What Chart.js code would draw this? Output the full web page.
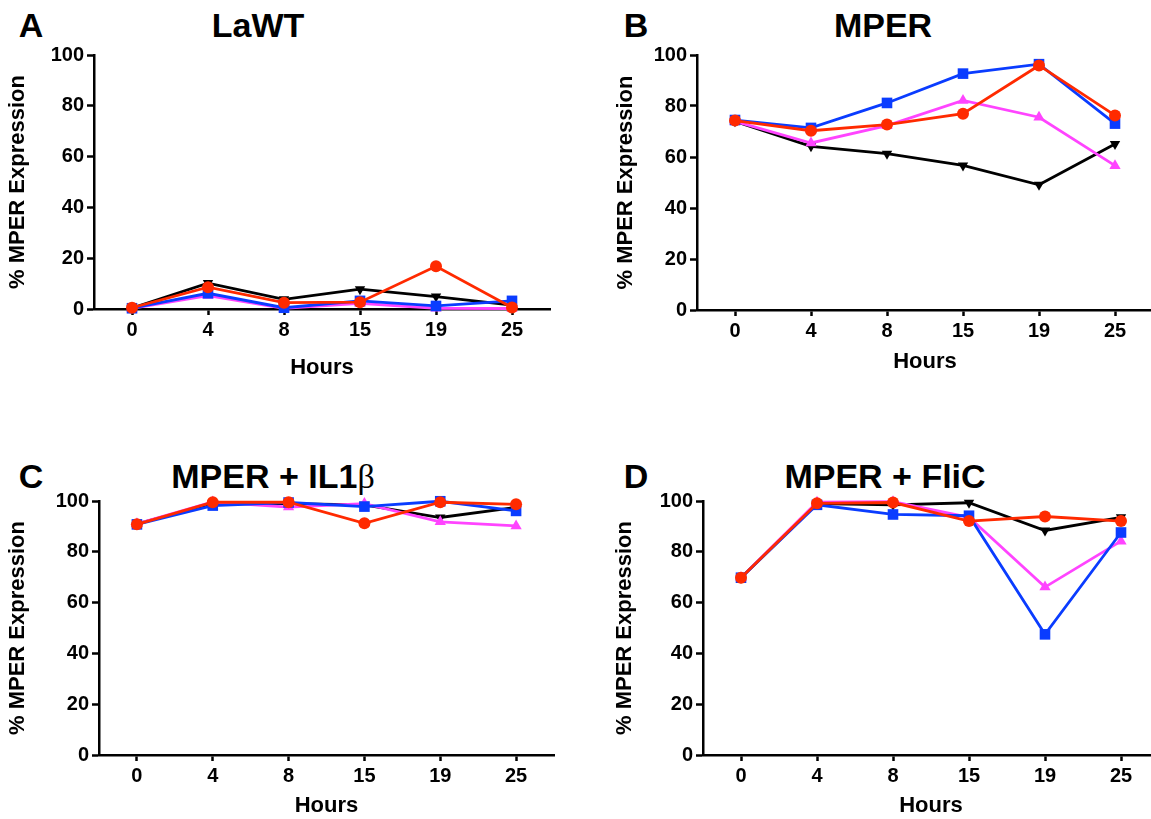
<!DOCTYPE html>
<html>
<head>
<meta charset="utf-8">
<script src="https://cdn.jsdelivr.net/npm/chart.js@4.4.1/dist/chart.umd.min.js"></script>
<style>
  html, body { margin: 0; padding: 0; width: 1151px; height: 819px; overflow: hidden; background: #fff; }
  canvas, .lbl { position: absolute; }
  .lbl {
    font-family: "Liberation Sans", Arial, sans-serif; font-weight: bold; color: #000;
    white-space: nowrap; line-height: 1; transform: translate(-50%, -50%);
  }
  .greek { font-family: "Liberation Serif", serif; font-weight: normal; }
</style>
</head>
<body>
<div class="lbl" style="left:31px;top:25px;font-size:34px">A</div>
<div class="lbl" style="left:258px;top:25px;font-size:34px">LaWT</div>
<div class="lbl" style="left:636px;top:25px;font-size:34px">B</div>
<div class="lbl" style="left:883px;top:25px;font-size:34px">MPER</div>
<div class="lbl" style="left:31px;top:476px;font-size:34px">C</div>
<div class="lbl" style="left:273px;top:476px;font-size:34px">MPER + IL1<span class="greek">β</span></div>
<div class="lbl" style="left:636px;top:476px;font-size:34px">D</div>
<div class="lbl" style="left:885px;top:476px;font-size:34px">MPER + FliC</div>

<canvas id="pA"></canvas>
<canvas id="pB"></canvas>
<canvas id="pC"></canvas>
<canvas id="pD"></canvas>

<script>
const hours = ['0', '4', '8', '15', '19', '25'];

// panel A - LaWT
const lawtRed   = [0.5, 8.6, 2.5, 2.7, 16.8, 0.6];
const lawtBlue  = [0.3, 6.2, 0.5, 3.2, 1.2, 3.2];
const lawtPink  = [0.2, 5.3, 0.3, 2.2, 0.3, 0.2];
const lawtBlack = [0.4, 10.2, 3.8, 7.8, 4.9, 1.5];

// panel B - MPER
const mperRed   = [74.3, 70.3, 72.7, 77.0, 95.9, 76.3];
const mperBlue  = [74.5, 71.4, 81.2, 92.7, 96.4, 73.1];
const mperPink  = [74.0, 65.5, 72.3, 82.2, 75.6, 56.6];
const mperBlack = [74.0, 64.2, 61.3, 56.7, 49.1, 65.1];

// panel C - MPER + IL1b
const il1bRed   = [90.8, 99.5, 99.5, 91.2, 99.5, 98.7];
const il1bBlue  = [90.8, 98.2, 99.4, 97.8, 99.9, 96.1];
const il1bPink  = [91.0, 99.6, 97.6, 99.0, 91.8, 90.2];
const il1bBlack = [91.0, 99.0, 99.0, 98.5, 93.5, 97.5];

// panel D - MPER + FliC
const flicRed   = [69.8, 99.1, 99.4, 92.1, 93.9, 92.1];
const flicBlue  = [69.8, 98.5, 94.7, 94.2, 47.5, 87.6];
const flicPink  = [69.8, 99.5, 99.7, 93.6, 66.1, 84.2];
const flicBlack = [69.8, 99.0, 98.5, 99.3, 88.4, 93.6];

const FONT = '"Liberation Sans", Arial, sans-serif';

function series(red, blue, pink, black) {
  // first dataset is drawn on top
  return [
    { data: red, borderColor: '#ff2a00', backgroundColor: '#ff2a00', pointStyle: 'circle', pointRadius: 6 },
    { data: blue, borderColor: '#0a3cff', backgroundColor: '#0a3cff', pointStyle: 'rect', pointRadius: 7.5 },
    { data: pink, borderColor: '#ff44ff', backgroundColor: '#ff44ff', pointStyle: 'triangle', pointRadius: 6.5 },
    { data: black, borderColor: '#000', backgroundColor: '#000', pointStyle: 'triangle', pointRotation: 180, pointRadius: 6 }
  ].map(d => Object.assign(d, { borderWidth: 2.8, pointBorderWidth: 0, clip: false, tension: 0 }));
}

function makePanel(id, g, datasets) {
  const cv = document.getElementById(id);
  cv.width = g.w; cv.height = g.h;
  cv.style.left = g.x + 'px'; cv.style.top = g.y + 'px';
  cv.style.width = g.w + 'px'; cv.style.height = g.h + 'px';
  new Chart(cv.getContext('2d'), {
    type: 'line',
    data: { labels: hours, datasets: datasets },
    options: {
      responsive: false,
      animation: false,
      layout: { padding: { left: g.padLeft, top: g.padTop, right: g.padRight, bottom: 0 } },
      plugins: { legend: { display: false }, tooltip: { enabled: false } },
      scales: {
        x: {
          type: 'category',
          offset: true,
          afterFit: s => { s.height = g.xHeight; },
          grid: { offset: false, drawOnChartArea: false, drawTicks: true, tickLength: 6, tickWidth: 2.5, tickColor: '#000' },
          border: { display: true, color: '#000', width: 2.5 },
          ticks: { color: '#000', padding: 3, maxRotation: 0, font: { family: FONT, size: 20, weight: 'bold' } },
          title: { display: true, text: 'Hours', color: '#000', padding: 0, font: { family: FONT, size: 22, weight: 'bold' } }
        },
        y: {
          min: 0, max: 100,
          afterFit: s => { s.width = g.yWidth; },
          grid: { drawOnChartArea: false, drawTicks: true, tickLength: 7, tickWidth: 2.5, tickColor: '#000' },
          border: { display: true, color: '#000', width: 2.5 },
          ticks: { stepSize: 20, color: '#000', padding: 3, font: { family: FONT, size: 20, weight: 'bold' } },
          title: { display: true, text: '% MPER Expression', color: '#000', padding: 0, font: { family: FONT, size: 22, weight: 'bold' } }
        }
      }
    }
  });
}

makePanel('pA', { x: 0, y: 0, w: 575, h: 381, padLeft: 5, padTop: 55, padRight: 25, yWidth: 89, xHeight: 72 },
  series(lawtRed, lawtBlue, lawtPink, lawtBlack));
makePanel('pB', { x: 575, y: 0, w: 600, h: 375, padLeft: 38, padTop: 55, padRight: 22, yWidth: 84, xHeight: 65 },
  series(mperRed, mperBlue, mperPink, mperBlack));
makePanel('pC', { x: 0, y: 440, w: 580, h: 379, padLeft: 5, padTop: 61, padRight: 26, yWidth: 94, xHeight: 64 },
  series(il1bRed, il1bBlue, il1bPink, il1bBlack));
makePanel('pD', { x: 575, y: 440, w: 610, h: 379, padLeft: 37, padTop: 61, padRight: 26, yWidth: 91, xHeight: 64 },
  series(flicRed, flicBlue, flicPink, flicBlack));
</script>
</body>
</html>
